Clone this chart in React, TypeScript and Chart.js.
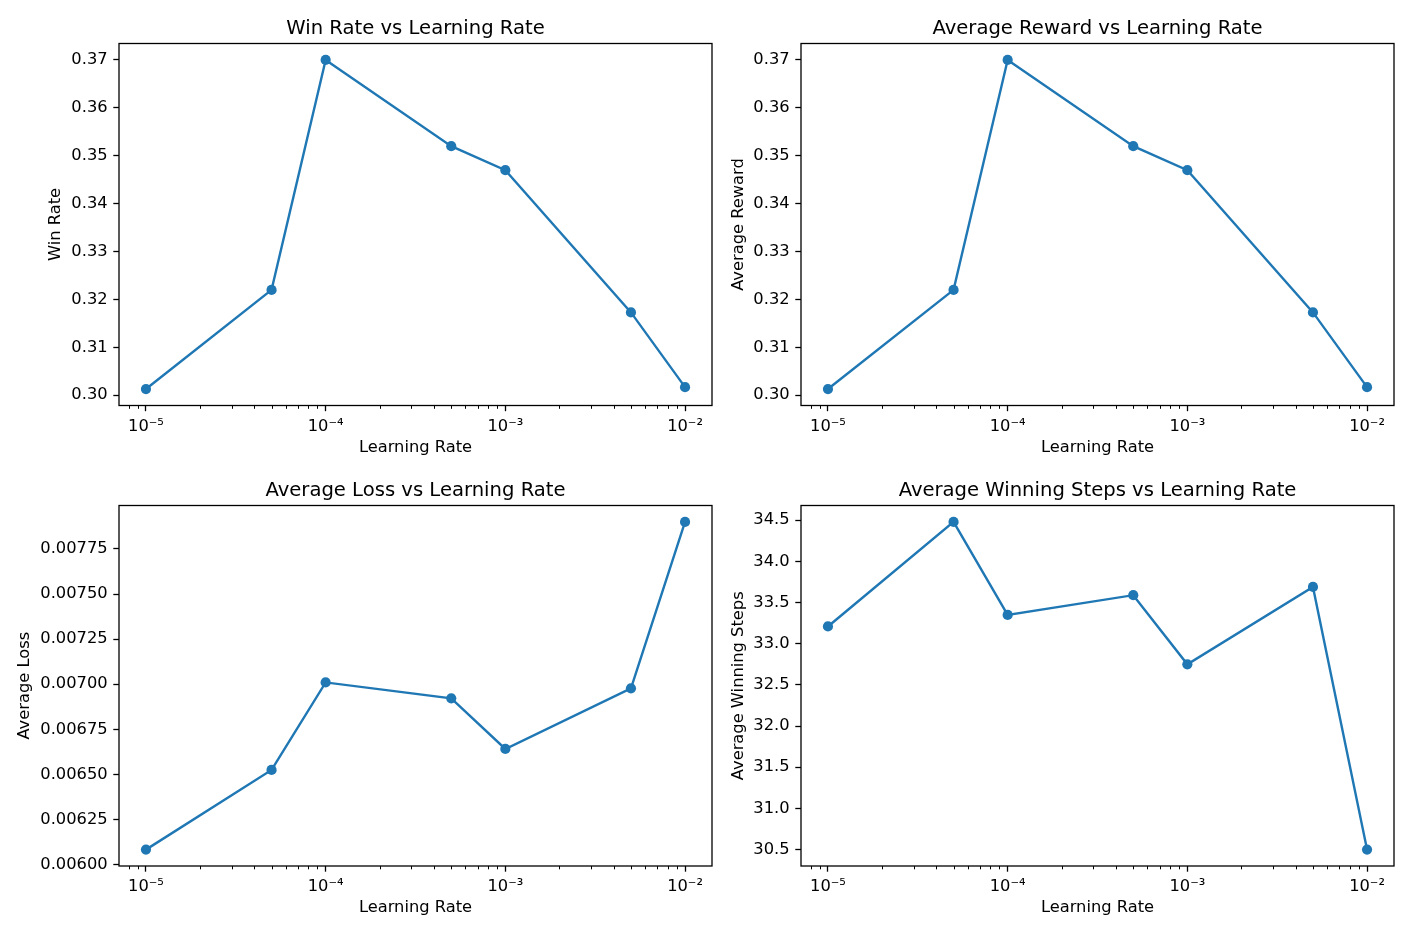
import React, { useEffect, useRef } from "react";
import { Chart, registerables } from "chart.js";

Chart.register(...registerables);

// ---------------- data ----------------
const learningRates = [1e-5, 5e-5, 1e-4, 5e-4, 1e-3, 5e-3, 1e-2];
const winRates = [0.3013, 0.322, 0.37, 0.352, 0.347, 0.3173, 0.3017];
const avgRewards = [0.3013, 0.322, 0.37, 0.352, 0.347, 0.3173, 0.3017];
const avgLosses = [0.006083, 0.006525, 0.00701, 0.006922, 0.006641, 0.006977, 0.0079];
const avgWinningSteps = [33.21, 34.48, 33.35, 33.59, 32.75, 33.69, 30.5];

const xMajorTicks = [1e-5, 1e-4, 1e-3, 1e-2];
const xMajorLabels = ["10\u207B\u2075", "10\u207B\u2074", "10\u207B\u00B3", "10\u207B\u00B2"];
const winTicks = [0.3, 0.31, 0.32, 0.33, 0.34, 0.35, 0.36, 0.37];
const lossTicks = [0.006, 0.00625, 0.0065, 0.00675, 0.007, 0.00725, 0.0075, 0.00775];
const stepsTicks = [30.5, 31.0, 31.5, 32.0, 32.5, 33.0, 33.5, 34.0, 34.5];
const xAxisTitle = "Learning Rate";

// ---------------- style ----------------
const FONT = "'DejaVu Sans', sans-serif";
const BLUE = "#1f77b4";
const TICK_FONT = 16.3;
const TITLE_FONT = 19.6;

const logMin = Math.log10(learningRates[0]);
const logMax = Math.log10(learningRates[learningRates.length - 1]);
const logMargin = (logMax - logMin) * 0.05;
const X_MIN = Math.pow(10, logMin - logMargin);
const X_MAX = Math.pow(10, logMax + logMargin);

function buildXTicks(): number[] {
  const out: number[] = [];
  for (let e = -7; e <= 0; e++) {
    for (let m = 1; m <= 9; m++) {
      const v = m * Math.pow(10, e);
      if (v >= X_MIN && v <= X_MAX) out.push(v);
    }
  }
  return out;
}

function majorIndex(v: number): number {
  return xMajorTicks.findIndex((t) => Math.abs(v - t) / t < 1e-6);
}

const framePlugin = {
  id: "frame",
  afterDraw(chart: any, _args: any, opts: any) {
    const { ctx, chartArea: a } = chart;
    ctx.save();
    ctx.strokeStyle = "#000";
    ctx.lineWidth = 1.3;
    ctx.strokeRect(a.left, a.top, a.right - a.left, a.bottom - a.top);
    // minor ticks on x axis
    const xs = chart.scales.x;
    ctx.lineWidth = 1.0;
    ctx.beginPath();
    for (const t of xs.ticks) {
      if (majorIndex(t.value) < 0) {
        const px = Math.round(xs.getPixelForValue(t.value)) + 0.5;
        ctx.moveTo(px, a.bottom);
        ctx.lineTo(px, a.bottom + 3.3);
      }
    }
    ctx.stroke();
    // title
    ctx.fillStyle = "#000";
    ctx.font = `${TITLE_FONT}px ${FONT}`;
    ctx.textAlign = "center";
    ctx.textBaseline = "alphabetic";
    ctx.fillText(opts.text, (a.left + a.right) / 2, a.top - 9.8);
    ctx.restore();
  },
};

type Panel = {
  title: string;
  yTitle: string;
  values: number[];
  ticks: number[];
  decimals: number;
  left: number;
  top: number;
  width: number;
  height: number;
  padLeft: number;
  yWidth: number;
  padRight: number;
  padTop: number;
  padBottom: number;
  xHeight: number;
};

const panels: Panel[] = [
  {
    title: "Win Rate vs Learning Rate",
    yTitle: "Win Rate",
    values: winRates,
    ticks: winTicks,
    decimals: 2,
    left: 0, top: 0, width: 760, height: 470,
    padLeft: 46, yWidth: 73, padRight: 48, padTop: 43.5, padBottom: 12.5, xHeight: 52,
  },
  {
    title: "Average Reward vs Learning Rate",
    yTitle: "Average Reward",
    values: avgRewards,
    ticks: winTicks,
    decimals: 2,
    left: 706, top: 0, width: 706, height: 470,
    padLeft: 23, yWidth: 72, padRight: 18, padTop: 43.5, padBottom: 12.5, xHeight: 52,
  },
  {
    title: "Average Loss vs Learning Rate",
    yTitle: "Average Loss",
    values: avgLosses,
    ticks: lossTicks,
    decimals: 5,
    left: 0, top: 470, width: 760, height: 471,
    padLeft: 15, yWidth: 104, padRight: 48, padTop: 35.5, padBottom: 23, xHeight: 52,
  },
  {
    title: "Average Winning Steps vs Learning Rate",
    yTitle: "Average Winning Steps",
    values: avgWinningSteps,
    ticks: stepsTicks,
    decimals: 1,
    left: 706, top: 470, width: 706, height: 471,
    padLeft: 23, yWidth: 72, padRight: 18, padTop: 35.5, padBottom: 23, xHeight: 52,
  },
];

function PanelChart({ p }: { p: Panel }) {
  const ref = useRef<HTMLCanvasElement | null>(null);
  useEffect(() => {
    if (!ref.current) return;
    const vmin = Math.min(...p.values);
    const vmax = Math.max(...p.values);
    const m = (vmax - vmin) * 0.05;
    const xTickValues = buildXTicks();
    const chart = new Chart(ref.current, {
      type: "line",
      data: {
        datasets: [
          {
            data: learningRates.map((x, i) => ({ x, y: p.values[i] })),
            borderColor: BLUE,
            backgroundColor: BLUE,
            borderWidth: 2.4,
            pointRadius: 5.1,
            pointBorderWidth: 0,
            pointBackgroundColor: BLUE,
            tension: 0,
            fill: false,
          },
        ],
      },
      options: {
        animation: false,
        responsive: false,
        events: [],
        layout: {
          padding: { left: p.padLeft, right: p.padRight, top: p.padTop, bottom: p.padBottom },
        },
        plugins: {
          legend: { display: false },
          tooltip: { enabled: false },
          title: { display: false },
          frame: { text: p.title },
        } as any,
        scales: {
          x: {
            type: "logarithmic",
            min: X_MIN,
            max: X_MAX,
            afterBuildTicks: (scale: any) => {
              scale.ticks = xTickValues.map((v) => ({ value: v }));
            },
            afterFit: (scale: any) => {
              scale.height = p.xHeight;
            },
            ticks: {
              autoSkip: false,
              maxRotation: 0,
              minRotation: 0,
              padding: 5.7,
              color: "#000",
              font: { family: FONT, size: TICK_FONT },
              callback: (v: any) => {
                const i = majorIndex(Number(v));
                return i >= 0 ? xMajorLabels[i] : "";
              },
            },
            grid: {
              display: true,
              drawOnChartArea: false,
              drawTicks: true,
              tickLength: 5.7,
              tickWidth: 1.3,
              tickColor: (c: any) =>
                c.tick && majorIndex(c.tick.value) >= 0 ? "#000" : "rgba(0,0,0,0)",
            },
            border: { display: false },
            title: {
              display: true,
              text: xAxisTitle,
              color: "#000",
              padding: 0,
              font: { family: FONT, size: TICK_FONT },
            },
          },
          y: {
            type: "linear",
            min: vmin - m,
            max: vmax + m,
            afterBuildTicks: (scale: any) => {
              scale.ticks = p.ticks.map((v) => ({ value: v }));
            },
            afterFit: (scale: any) => {
              scale.width = p.yWidth;
            },
            ticks: {
              padding: 5.7,
              color: "#000",
              font: { family: FONT, size: TICK_FONT },
              callback: (v: any) => Number(v).toFixed(p.decimals),
            },
            grid: {
              display: true,
              drawOnChartArea: false,
              drawTicks: true,
              tickLength: 5.7,
              tickWidth: 1.3,
              tickColor: "#000",
            },
            border: { display: false },
            title: {
              display: true,
              text: p.yTitle,
              color: "#000",
              padding: 0,
              font: { family: FONT, size: TICK_FONT },
            },
          },
        },
      },
      plugins: [framePlugin as any],
    });
    return () => chart.destroy();
  }, [p]);
  return (
    <canvas
      ref={ref}
      width={p.width}
      height={p.height}
      style={{
        position: "absolute",
        left: p.left,
        top: p.top,
        width: p.width,
        height: p.height,
      }}
    />
  );
}

export default function App() {
  return (
    <div
      style={{
        position: "absolute",
        left: 0,
        top: 0,
        width: 1412,
        height: 941,
        background: "#fff",
        overflow: "hidden",
      }}
    >
      {panels.map((p, i) => (
        <PanelChart key={i} p={p} />
      ))}
    </div>
  );
}
